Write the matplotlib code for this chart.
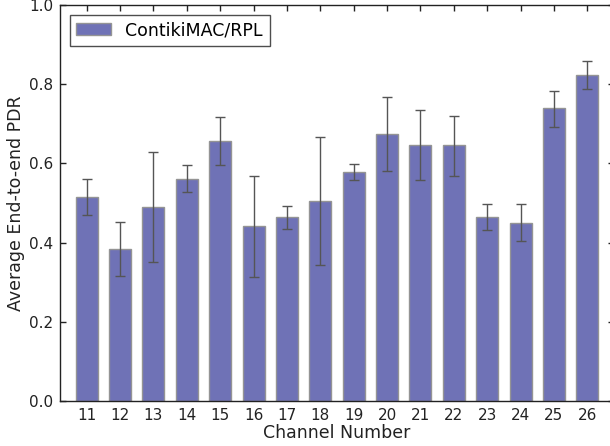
import matplotlib
matplotlib.use("Agg")
import matplotlib.pyplot as plt
import numpy as np

channels = [11, 12, 13, 14, 15, 16, 17, 18, 19, 20, 21, 22, 23, 24, 25, 26]
pdr = [0.515, 0.384, 0.491, 0.561, 0.657, 0.441, 0.464, 0.505,
       0.579, 0.675, 0.646, 0.646, 0.465, 0.450, 0.739, 0.822]
err_low = [0.470, 0.316, 0.352, 0.527, 0.597, 0.312, 0.434, 0.343,
           0.557, 0.582, 0.558, 0.569, 0.433, 0.404, 0.692, 0.787]
err_high = [0.560, 0.453, 0.628, 0.597, 0.718, 0.569, 0.493, 0.666,
            0.599, 0.767, 0.734, 0.720, 0.498, 0.497, 0.784, 0.858]

x = np.array(channels)
vals = np.array(pdr)
yerr = np.vstack([vals - np.array(err_low), np.array(err_high) - vals])

fig = plt.figure(figsize=(6.10, 4.46), dpi=100)
ax = fig.add_axes([60/610, 1 - 401/446, 554/610, 396/446])

ax.bar(x, vals, width=0.66, color='#6f72b6', edgecolor='#949494', linewidth=1.0,
       label='ContikiMAC/RPL', zorder=2)
ax.errorbar(x, vals, yerr=yerr, fmt='none', ecolor='#555555', elinewidth=1.0,
            capsize=3.5, capthick=1.0, zorder=3)

ax.set_xlim(10.2, 26.8)
ax.set_ylim(0.0, 1.0)
ax.set_xticks(channels)
ax.set_xticklabels([str(c) for c in channels])
ax.set_yticks([0.0, 0.2, 0.4, 0.6, 0.8, 1.0])
ax.set_yticklabels(['0.0', '0.2', '0.4', '0.6', '0.8', '1.0'])
ax.tick_params(direction='in', top=True, right=True, length=4, width=1,
               labelsize=11, colors='#222222', pad=5)
for s in ax.spines.values():
    s.set_color('#222222')
    s.set_linewidth(1.0)

ax.set_xlabel('Channel Number', fontsize=12.5, color='#222222', labelpad=0.5)
ax.set_ylabel('Average End-to-end PDR', fontsize=12.5, color='#222222', labelpad=3)

leg = ax.legend(loc='upper left', fontsize=12.5, frameon=True, fancybox=False,
                edgecolor='#222222', borderaxespad=0.55, handlelength=2.0)
leg.get_frame().set_linewidth(1.0)

fig.savefig('out.png', dpi=100)
